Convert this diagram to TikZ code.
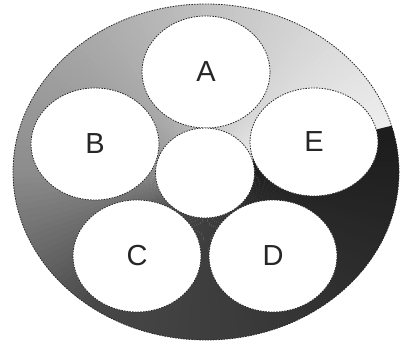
\documentclass[tikz,border=0pt]{standalone}
\usepackage{fontspec}
\setmainfont{Liberation Sans}
\usetikzlibrary{shapes.geometric}
\begin{document}
\begin{tikzpicture}[x=1pt,y=1pt,
  blob/.style={ellipse, draw=black!85, dash pattern=on 1.5pt off 1.2pt, line width=0.8pt, fill=white, inner sep=0pt, minimum width=128pt, minimum height=112pt, font=\fontsize{29}{32}\selectfont, text=black!85},
  rim/.style={draw=black!85, dash pattern=on 1.5pt off 1.2pt, line width=0.8pt}]
\useasboundingbox (0,0) rectangle (407,341);
\coordinate (o) at (206,169);
\begin{scope}
\clip (o) ellipse [x radius=193, y radius=168];
\foreach \i in {0,...,179}{
  \pgfmathsetmacro{\f}{2*\i}
  \pgfmathsetmacro{\g}{\f<165 ? 0.93-0.38*\f/165 : (\f<215 ? 0.55-0.27*(\f-165)/50 : (\f<270 ? 0.28-0.05*(\f-215)/55 : 0.23-0.12*(\f-270)/90))}
  \pgfmathsetmacro{\p}{100*(1-\g)}
  \pgfmathsetmacro{\a}{14+\f-0.3}
  \pgfmathsetmacro{\b}{14+\f+2}
  \fill[black!\p] (o) -- +(\a:330) -- +(\b:330) -- cycle;
}
\end{scope}
\draw[rim] (o) ellipse [x radius=193, y radius=168];
\node[blob] (A) at (206,269) {A};
\node[blob] (B) at (95,197) {B};
\node[blob, minimum height=108pt] (E) at (314,199) {E};
\node[blob] (C) at (137,85) {C};
\node[blob] (D) at (273,85) {D};
\node[blob, minimum width=99pt, minimum height=90pt] (M) at (205,168) {};
\end{tikzpicture}
\end{document}
